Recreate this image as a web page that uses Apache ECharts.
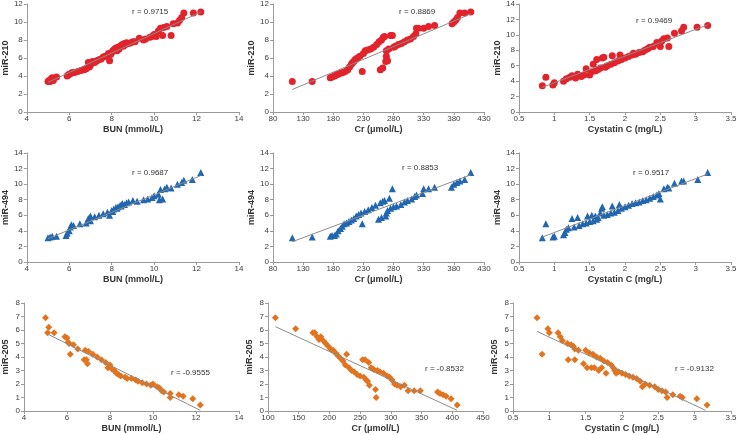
<!DOCTYPE html>
<html>
<head>
<meta charset="utf-8">
<script src="https://cdn.jsdelivr.net/npm/echarts@6/dist/echarts.min.js"></script>
<style>
html,body{margin:0;padding:0;background:#fff;}
#chart{width:740px;height:435px;}
</style>
</head>
<body>
<div id="chart"></div>
<script>
// ---------- DATA ----------
const xTitles = ['BUN (mmol/L)', 'Cr (μmol/L)', 'Cystatin C (mg/L)'];
const yTitles = ['miR-210', 'miR-494', 'miR-205'];
const rLabels = ['r = 0.9715', 'r = 0.8869', 'r = 0.9469',
                 'r = 0.9687', 'r = 0.8853', 'r = 0.9517',
                 'r = -0.9555', 'r = -0.8532', 'r = -0.9132'];

// miR-210
const bun210 = [[5.0,3.4],[5.05,3.5],[5.1,3.4],[5.15,3.7],[5.2,3.8],[5.25,3.5],[5.4,3.9],[5.9,4.0],[5.95,4.1],[6.0,4.2],[6.1,4.3],[6.15,4.4],[6.25,4.4],[6.4,4.5],[6.55,4.6],[6.7,4.7],[6.8,4.8],[6.9,5.5],[6.95,5.0],[7.0,5.2],[7.1,5.6],[7.2,5.5],[7.3,5.7],[7.4,5.8],[7.5,5.9],[7.6,6.1],[7.7,6.2],[7.8,6.3],[7.85,6.5],[7.9,5.7],[7.95,6.4],[8.0,6.6],[8.05,6.8],[8.1,6.9],[8.15,7.0],[8.2,7.1],[8.25,6.8],[8.3,7.2],[8.35,7.0],[8.4,7.3],[8.45,7.4],[8.5,7.5],[8.55,7.3],[8.6,7.6],[8.65,7.5],[8.7,7.7],[8.8,7.6],[8.9,7.7],[9.0,7.8],[9.1,7.8],[9.3,8.2],[9.5,8.0],[9.6,8.1],[9.8,8.3],[9.9,8.4],[10.0,8.6],[10.1,8.4],[10.2,9.0],[10.3,9.3],[10.4,8.5],[10.45,9.4],[10.6,9.5],[10.8,8.5],[10.9,9.8],[11.1,9.9],[11.2,10.2],[11.3,10.5],[11.4,11.0],[11.85,11.0],[12.2,11.1]];
const cr210 = [[112,3.4],[145,3.4],[175,3.8],[178,3.9],[182,4.0],[185,4.1],[188,4.2],[192,4.3],[196,4.4],[200,4.5],[204,4.7],[207,5.0],[210,5.3],[212,5.5],[214,5.6],[216,5.8],[218,5.9],[220,6.0],[224,6.2],[228,4.5],[230,6.5],[233,6.8],[237,6.9],[242,7.0],[247,7.2],[252,7.5],[256,7.8],[258,4.7],[260,8.0],[262,4.9],[263,8.3],[265,8.4],[267,5.6],[268,6.2],[268,6.8],[270,5.7],[272,7.0],[275,8.5],[278,8.5],[280,7.2],[283,7.3],[288,7.5],[293,7.6],[298,7.8],[303,8.0],[308,8.1],[313,8.4],[317,8.7],[318,9.3],[321,9.3],[330,9.3],[338,9.5],[348,9.6],[377,9.8],[380,10.0],[383,10.2],[386,10.5],[390,11.0],[398,11.0],[408,11.1]];
const cys210 = [[0.83,3.4],[0.88,4.5],[0.98,3.5],[1.0,3.8],[1.13,4.0],[1.17,4.3],[1.22,4.5],[1.25,4.7],[1.3,4.4],[1.33,4.9],[1.38,4.6],[1.42,4.8],[1.45,5.6],[1.5,4.8],[1.52,5.2],[1.55,6.2],[1.58,5.3],[1.6,6.8],[1.62,5.5],[1.65,5.7],[1.68,7.0],[1.7,7.1],[1.72,5.8],[1.75,6.0],[1.8,6.2],[1.82,7.3],[1.85,6.4],[1.9,6.6],[1.93,7.4],[1.95,6.8],[2.0,7.0],[2.05,7.2],[2.1,7.4],[2.12,7.6],[2.15,7.5],[2.2,7.7],[2.25,7.8],[2.28,8.0],[2.32,8.2],[2.35,8.4],[2.4,8.5],[2.45,9.0],[2.48,8.8],[2.5,8.5],[2.52,9.2],[2.55,9.5],[2.6,9.6],[2.62,8.5],[2.7,10.2],[2.8,10.5],[2.83,11.0],[3.02,11.0],[3.17,11.2]];

// miR-494
const bun494 = [[5.0,3.1],[5.1,3.2],[5.2,3.3],[5.4,3.3],[5.85,3.4],[5.9,3.7],[6.0,4.0],[6.05,4.5],[6.1,4.8],[6.2,4.7],[6.5,4.9],[6.8,5.0],[6.9,5.6],[7.0,5.3],[7.0,5.9],[7.2,5.8],[7.4,6.0],[7.6,6.2],[7.8,6.4],[7.9,6.0],[8.0,6.6],[8.05,6.5],[8.1,6.8],[8.2,7.0],[8.25,6.9],[8.3,7.1],[8.4,7.3],[8.45,7.2],[8.5,7.5],[8.6,7.4],[8.7,7.6],[8.8,7.7],[9.0,7.9],[9.2,7.8],[9.5,8.0],[9.7,8.1],[9.9,8.3],[10.0,8.5],[10.2,8.7],[10.25,8.0],[10.3,9.3],[10.4,8.1],[10.5,9.4],[10.6,9.6],[10.8,9.5],[11.1,10.0],[11.3,10.2],[11.4,10.5],[11.8,10.6],[12.2,11.5]];
const cr494 = [[112,3.1],[145,3.2],[175,3.3],[178,3.4],[182,3.4],[185,3.6],[188,4.0],[192,4.3],[195,4.6],[198,4.9],[202,5.0],[206,5.2],[210,5.4],[214,5.6],[218,5.9],[222,6.1],[226,6.3],[228,4.9],[232,6.5],[238,6.7],[244,7.0],[250,7.3],[255,5.5],[258,7.6],[260,5.7],[262,7.8],[265,7.9],[267,5.9],[268,6.3],[270,6.6],[273,8.2],[275,6.9],[278,9.4],[280,7.1],[285,7.2],[292,7.4],[298,7.7],[303,7.9],[310,8.1],[315,8.4],[318,8.6],[328,8.8],[330,9.4],[338,9.4],[348,9.6],[376,9.6],[380,10.0],[385,10.2],[390,10.4],[398,10.6],[408,11.5]];
const cys494 = [[0.83,3.1],[0.88,4.9],[0.98,3.2],[1.0,3.3],[1.13,3.5],[1.15,3.8],[1.17,4.2],[1.2,4.4],[1.25,5.6],[1.28,4.5],[1.33,5.7],[1.35,4.7],[1.4,4.9],[1.45,5.0],[1.47,5.9],[1.5,5.2],[1.53,6.0],[1.55,5.3],[1.58,5.9],[1.6,5.5],[1.62,5.7],[1.65,6.3],[1.67,6.9],[1.68,7.1],[1.7,6.0],[1.75,6.1],[1.8,6.3],[1.82,7.2],[1.85,6.4],[1.9,6.6],[1.92,7.4],[1.95,6.9],[2.0,7.1],[2.05,7.3],[2.1,7.5],[2.15,7.6],[2.2,7.7],[2.25,7.9],[2.3,8.0],[2.35,8.2],[2.4,8.4],[2.45,8.6],[2.48,8.8],[2.5,8.1],[2.55,9.4],[2.6,9.6],[2.62,9.5],[2.7,10.1],[2.8,10.4],[2.83,10.4],[3.03,10.6],[3.17,11.5]];

// miR-205
const bun205 = [[5.0,6.9],[5.1,5.8],[5.15,6.2],[5.4,5.8],[5.9,5.5],[6.0,5.4],[6.05,5.1],[6.1,5.0],[6.15,4.2],[6.3,4.9],[6.5,4.6],[6.8,3.8],[6.85,4.5],[6.9,3.8],[6.95,3.5],[7.0,4.4],[7.2,4.2],[7.4,4.0],[7.6,3.8],[7.8,3.6],[7.9,3.2],[8.0,3.4],[8.1,3.1],[8.2,3.0],[8.3,2.8],[8.4,2.7],[8.5,2.6],[8.7,2.5],[8.8,2.4],[9.0,2.4],[9.2,2.3],[9.3,2.2],[9.5,2.1],[9.7,2.0],[9.9,1.9],[10.0,2.0],[10.2,1.8],[10.3,1.7],[10.4,1.5],[10.5,1.4],[10.8,1.0],[10.8,1.3],[11.2,1.2],[11.4,1.1],[11.85,0.9],[12.2,0.45]];
const cr205 = [[112,6.9],[145,6.1],[173,5.8],[176,5.8],[180,5.5],[183,5.3],[186,5.5],[190,5.2],[194,5.0],[198,4.8],[202,4.6],[206,4.5],[210,4.3],[214,4.1],[218,3.9],[222,3.7],[226,3.4],[228,4.2],[232,3.2],[236,3.0],[240,2.9],[245,2.7],[250,2.6],[254,3.8],[256,2.5],[258,3.8],[260,2.3],[262,2.2],[264,3.6],[265,1.9],[268,3.2],[272,3.1],[275,1.6],[276,1.0],[278,3.0],[282,2.9],[288,2.8],[294,2.6],[298,2.5],[302,2.3],[306,2.0],[310,1.9],[316,1.8],[322,1.9],[328,1.5],[338,1.5],[348,1.5],[376,1.4],[380,1.3],[385,1.2],[390,1.1],[398,0.9],[408,0.45]];
const cys205 = [[0.83,6.9],[0.9,4.2],[0.98,6.1],[1.0,5.8],[1.12,5.8],[1.15,5.5],[1.18,5.2],[1.25,5.0],[1.26,3.8],[1.3,4.9],[1.33,4.8],[1.35,3.8],[1.35,4.6],[1.4,4.5],[1.47,3.5],[1.5,4.5],[1.52,3.2],[1.55,4.3],[1.58,3.2],[1.6,4.2],[1.62,3.2],[1.65,4.0],[1.68,3.0],[1.7,3.9],[1.72,3.2],[1.75,3.7],[1.78,2.8],[1.8,3.6],[1.85,3.4],[1.88,3.2],[1.9,3.0],[1.92,2.8],[1.95,2.9],[2.0,2.8],[2.05,2.7],[2.1,2.6],[2.15,2.5],[2.2,2.4],[2.25,2.2],[2.28,1.8],[2.32,2.0],[2.38,1.9],[2.45,1.8],[2.5,1.6],[2.55,1.5],[2.6,1.4],[2.62,1.0],[2.7,1.2],[2.8,1.1],[2.83,1.0],[3.03,0.9],[3.17,0.45]];

// trend lines (end points of each fitted line)
const trendLines = [
  [[5.0,3.3],[12.2,11.1]], [[112,2.5],[408,10.9]], [[0.83,3.2],[3.17,11.3]],
  [[5.0,3.0],[12.2,11.1]], [[112,2.6],[408,11.2]], [[0.83,3.2],[3.17,11.3]],
  [[5.1,5.7],[12.2,0.05]], [[112,6.25],[408,0.05]], [[0.83,5.9],[3.15,0.05]]
];

// axis ranges [min, max, interval]
const xRanges = [[4,14,2],[80,430,50],[0.5,3.5,0.5],
                 [4,14,2],[80,430,50],[0.5,3.5,0.5],
                 [4,14,2],[100,450,50],[0.5,3.5,0.5]];
const yRanges = [[0,12,2],[0,12,2],[0,14,2],
                 [0,14,2],[0,14,2],[0,14,2],
                 [0,8,1],[0,8,1],[0,8,1]];

const panelData = [bun210, cr210, cys210, bun494, cr494, cys494, bun205, cr205, cys205];

// ---------- LAYOUT / STYLE ----------
const grids = [
  {left:25, top:4, width:214, height:108},
  {left:273, top:4, width:211, height:108},
  {left:519, top:4, width:212, height:108},
  {left:25, top:153, width:214, height:109},
  {left:273, top:153, width:211, height:109},
  {left:519, top:153, width:212, height:109},
  {left:22, top:303, width:217, height:108},
  {left:268, top:303, width:215, height:108},
  {left:513, top:303, width:218, height:108}
];
const rowColors = ['#e3232b', '#2066b0', '#e2731f'];
const rowSymbols = ['circle', 'triangle', 'diamond'];
const rowSizes = [7, 7, 7];
const rPos = [[132,13],[399,13],[636,22],[132,174],[402,169],[633,174],[171,374],[425,370],[675,370]];

const axisColor = '#9a9a9a';
const labelColor = '#404040';
const fontFam = 'Arial, "Liberation Sans", sans-serif';

const option = {
  backgroundColor: '#fff',
  animation: false,
  grid: grids.map(g => Object.assign({containLabel:false}, g)),
  xAxis: [], yAxis: [], series: [], graphic: []
};

for (let i = 0; i < 9; i++) {
  const row = Math.floor(i / 3), col = i % 3;
  option.xAxis.push({
    type:'value', gridIndex:i,
    min:xRanges[i][0], max:xRanges[i][1], interval:xRanges[i][2],
    name:xTitles[col], nameLocation:'middle', nameGap:13,
    nameTextStyle:{fontFamily:fontFam, fontSize:9, fontWeight:'bold', color:'#333'},
    axisLine:{show:true, onZero:false, lineStyle:{color:axisColor, width:1}},
    axisTick:{show:true, length:3, lineStyle:{color:axisColor}},
    axisLabel:{fontFamily:fontFam, fontSize:8, color:labelColor, margin:3},
    splitLine:{show:false}
  });
  option.yAxis.push({
    type:'value', gridIndex:i,
    min:yRanges[i][0], max:yRanges[i][1], interval:yRanges[i][2],
    name:yTitles[row], nameLocation:'middle', nameGap:14, nameRotate:90,
    nameTextStyle:{fontFamily:fontFam, fontSize:9, fontWeight:'bold', color:'#333'},
    axisLine:{show:true, onZero:false, lineStyle:{color:axisColor, width:1}},
    axisTick:{show:true, length:3, lineStyle:{color:axisColor}},
    axisLabel:{fontFamily:fontFam, fontSize:8, color:labelColor, margin:4},
    splitLine:{show:false}
  });
  option.series.push({
    type:'scatter', xAxisIndex:i, yAxisIndex:i,
    data:panelData[i], symbol:rowSymbols[row], symbolSize:rowSizes[row],
    itemStyle:{color:rowColors[row], opacity:1}, z:2
  });
  option.series.push({
    type:'line', xAxisIndex:i, yAxisIndex:i,
    data:trendLines[i], showSymbol:false, symbol:'none',
    lineStyle:{color:'#8c8c8c', width:1}, z:3, silent:true
  });
  option.graphic.push({
    type:'text', left:rPos[i][0], top:rPos[i][1] - 5,
    style:{text:rLabels[i], font:'8px ' + fontFam, fill:'#333'}
  });
}

const chart = echarts.init(document.getElementById('chart'), null, {renderer:'canvas'});
chart.setOption(option);
</script>
</body>
</html>
